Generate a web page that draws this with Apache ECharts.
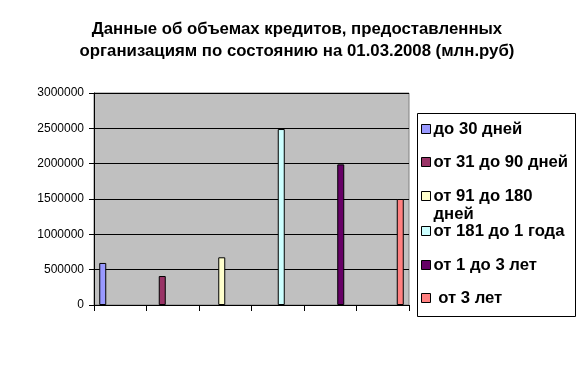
<!DOCTYPE html>
<html>
<head>
<meta charset="utf-8">
<script src="https://cdn.jsdelivr.net/npm/echarts@6/dist/echarts.min.js"></script>
<style>html,body{margin:0;padding:0;background:#fff}#c{width:584px;height:387px}</style>
</head>
<body>
<div id="c"></div>
<script>
const seriesNames = ['до 30 дней', 'от 31 до 90 дней', 'от 91 до 180 дней', 'от 181 до 1 года', 'от 1 до 3 лет', ' от 3 лет'];
const categories = ['1', '2', '3', '4', '5', '6'];
const values = [595000, 410000, 675000, 2490000, 1990000, 1500000];
const colors = ['#9999FF', '#993366', '#FFFFCC', '#CCFFFF', '#660066', '#FF8080'];
const yTicks = [0, 500000, 1000000, 1500000, 2000000, 2500000, 3000000];
const legendLabels = ['до 30 дней', 'от 31 до 90 дней', '\nот 91 до 180\nдней', 'от 181 до 1 года', 'от 1 до 3 лет', ' от 3 лет'];

const FONT = 'Arial, "Liberation Sans", sans-serif';
const legendCenters = [129, 162, 196, 231, 265, 298];

const chart = echarts.init(document.getElementById('c'), null, {renderer: 'canvas'});
const series = seriesNames.map((n, i) => ({
  name: n,
  type: 'bar',
  data: categories.map((c, j) => j === i ? values[i] : null),
  barWidth: 7,
  barGap: '0%',
  itemStyle: {color: colors[i], borderColor: '#000', borderWidth: 1},
  animation: false
}));
const legends = seriesNames.map((n, i) => ({
  data: [n],
  left: 421,
  top: legendCenters[i] - (i === 2 ? 27 : 9),
  padding: 0,
  icon: 'rect',
  itemWidth: 9,
  itemHeight: 9,
  itemGap: 0,
  selectedMode: false,
  formatter: () => legendLabels[i],
  itemStyle: {borderColor: '#000', borderWidth: 1},
  textStyle: {fontFamily: FONT, fontSize: 16.7, fontWeight: 'bold', color: '#000', lineHeight: 18, padding: [0, 0, 0, -2]}
}));
chart.setOption({
  animation: false,
  backgroundColor: '#fff',
  title: {
    text: 'Данные об объемах кредитов, предоставленных\nорганизациям по состоянию на 01.03.2008 (млн.руб)',
    left: 292, top: 13, textAlign: 'center',
    textStyle: {fontFamily: FONT, fontSize: 16.8, fontWeight: 'bold', color: '#000', lineHeight: 22}
  },
  grid: {left: 94, top: 93, right: 175, bottom: 82, show: true, backgroundColor: '#C0C0C0', borderColor: '#808080', borderWidth: 1},
  legend: legends,
  graphic: [{type: 'rect', shape: {x: 417.5, y: 113.5, width: 158, height: 203}, style: {fill: 'none', stroke: '#000', lineWidth: 1}, silent: true}],
  xAxis: {
    type: 'category', data: categories,
    axisLine: {lineStyle: {color: '#000', width: 1}},
    axisTick: {show: true, length: 6, lineStyle: {color: '#000'}, alignWithLabel: false},
    axisLabel: {show: false},
    splitLine: {show: false}
  },
  yAxis: {
    type: 'value', min: yTicks[0], max: yTicks[yTicks.length - 1], interval: 500000,
    axisLine: {show: true, lineStyle: {color: '#000', width: 1}},
    axisTick: {show: true, length: 5, lineStyle: {color: '#000'}},
    axisLabel: {fontFamily: FONT, fontSize: 12, color: '#000', margin: 10, formatter: v => String(v)},
    splitLine: {show: true, lineStyle: {color: '#000', width: 1}}
  },
  series: series
});
</script>
</body>
</html>
